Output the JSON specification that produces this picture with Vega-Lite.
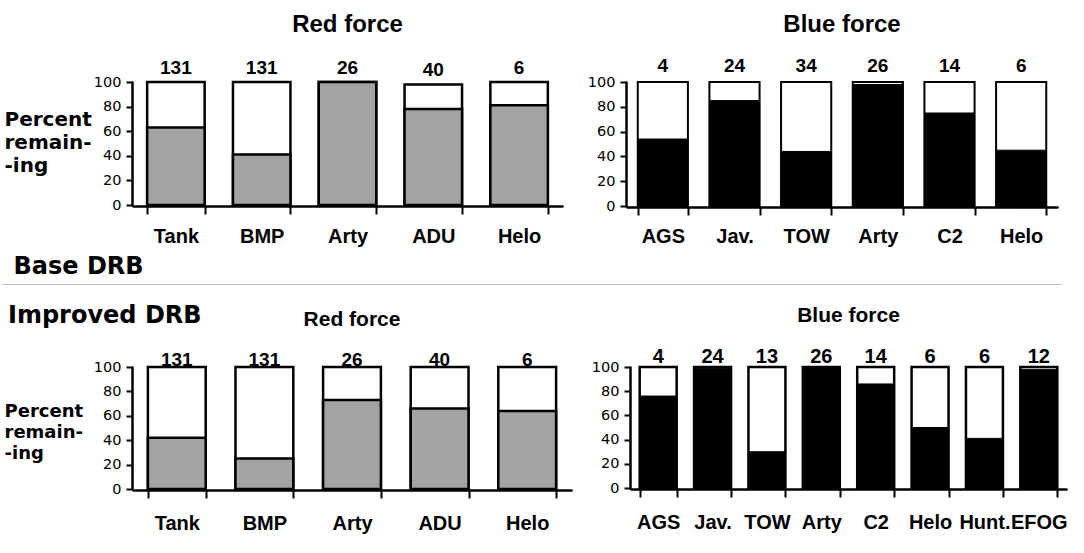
{
  "$schema": "https://vega.github.io/schema/vega-lite/v6.json",
  "background": "white",
  "padding": {"left": 0, "top": 12, "right": 0, "bottom": 0},
  "config": {
    "view": {"stroke": null},
    "font": "Liberation Sans",
    "axis": {"labelColor": "black", "grid": false, "domainColor": "#000000", "tickColor": "#000000"},
    "axisX": {"labelAngle": 0, "labelFont": "Liberation Sans", "labelFontSize": 20, "labelFontWeight": "bold", "tickSize": 8, "labelPadding": 12},
    "axisY": {"labelFont": "DejaVu Sans", "labelFontSize": 14.5, "tickSize": 6, "labelPadding": 5, "values": [0, 20, 40, 60, 80, 100]},
    "title": {"font": "Liberation Sans", "fontSize": 24, "fontWeight": "bold", "color": "black", "anchor": "middle"}
  },
  "spacing": 8,
  "columns": 1,
  "concat": [
    {
      "hconcat": [
        {
          "width": 429, "height": 123,
          "title": {"text": "Red force", "offset": 21.7},
          "data": {"values": [
            {"unit": "Tank", "count": 131, "total": 100, "remaining": 63},
            {"unit": "BMP", "count": 131, "total": 100, "remaining": 41},
            {"unit": "Arty", "count": 26, "total": 100, "remaining": 100},
            {"unit": "ADU", "count": 40, "total": 98, "remaining": 78},
            {"unit": "Helo", "count": 6, "total": 100, "remaining": 81}
          ]},
          "encoding": {"x": {"field": "unit", "type": "nominal", "sort": null, "scale": {"paddingInner": 0.33, "paddingOuter": 0.165}, "axis": {"title": null, "labelPadding": 12, "labelOverlap": false, "domainColor": "#000000", "domainWidth": 2.5, "domainCap": "round", "tickWidth": 2, "tickBand": "extent", "offset": 1}}},
          "layer": [
            {"mark": {"type": "bar", "fill": "white", "stroke": "black", "strokeWidth": 2.5},
             "encoding": {"y": {"field": "total", "type": "quantitative", "scale": {"domain": [0, 100]},
               "axis": {"offset": 1, "domainWidth": 2.5, "domainCap": "round", "tickWidth": 2, "title": ["Percent", "remain-", "-ing"], "titleAngle": 0, "titleAlign": "left", "titleBaseline": "alphabetic", "titleX": -128, "titleY": 43, "titleFont": "DejaVu Sans", "titleFontSize": 20, "titleFontWeight": "bold", "titleLineHeight": 23, "titleColor": "black"}}}},
            {"mark": {"type": "bar", "fill": "#a3a3a3", "stroke": "black", "strokeWidth": 2.5},
             "encoding": {"y": {"field": "remaining", "type": "quantitative"}}},
            {"mark": {"type": "text", "baseline": "alphabetic", "dy": -8, "fontSize": 19, "fontWeight": "bold", "color": "black"},
             "encoding": {"y": {"field": "total", "type": "quantitative"}, "text": {"field": "count"}}}
          ]
        },
        {
          "width": 430, "height": 124,
          "title": {"text": "Blue force", "offset": 20.5},
          "data": {"values": [
            {"unit": "AGS", "count": 4, "total": 100, "remaining": 54},
            {"unit": "Jav.", "count": 24, "total": 100, "remaining": 85},
            {"unit": "TOW", "count": 34, "total": 100, "remaining": 44},
            {"unit": "Arty", "count": 26, "total": 100, "remaining": 98},
            {"unit": "C2", "count": 14, "total": 100, "remaining": 75},
            {"unit": "Helo", "count": 6, "total": 100, "remaining": 45}
          ]},
          "encoding": {"x": {"field": "unit", "type": "nominal", "sort": null, "scale": {"paddingInner": 0.3, "paddingOuter": 0.15}, "axis": {"title": null, "labelPadding": 11, "labelOverlap": false, "domainColor": "#000000", "domainWidth": 2.5, "domainCap": "round", "tickWidth": 2, "tickBand": "extent", "offset": 1}}},
          "layer": [
            {"mark": {"type": "bar", "fill": "white", "stroke": "black", "strokeWidth": 2},
             "encoding": {"y": {"field": "total", "type": "quantitative", "scale": {"domain": [0, 100]}, "axis": {"title": null, "offset": 1, "domainWidth": 2.5, "domainCap": "round", "tickWidth": 2}}}},
            {"mark": {"type": "bar", "fill": "black", "stroke": "black", "strokeWidth": 1},
             "encoding": {"y": {"field": "remaining", "type": "quantitative"}}},
            {"mark": {"type": "text", "baseline": "alphabetic", "dy": -10, "fontSize": 19, "fontWeight": "bold", "color": "black"},
             "encoding": {"y": {"field": "total", "type": "quantitative"}, "text": {"field": "count"}}}
          ]
        }
      ],
      "spacing": 65,
      "bounds": "flush"
    },
    {
      "width": 927, "height": 12,
      "data": {"values": [{"divider": 0}]},
      "mark": {"type": "point", "opacity": 0},
      "encoding": {"x": {"field": "divider", "type": "quantitative", "scale": {"domain": [0, 1], "range": [-130, 927]},
        "axis": {"orient": "top", "domainColor": "#777777", "domainWidth": 1.2, "domainDash": [1, 1], "ticks": false, "labels": false,
          "title": "Base DRB", "titleAnchor": "start", "titleAlign": "left", "titleBaseline": "alphabetic", "titleX": -120, "titleY": -11, "titleFont": "DejaVu Sans", "titleFontSize": 24, "titleFontWeight": "bold", "titleColor": "black"}}}
    },
    {
      "title": {"text": "Improved DRB", "anchor": "start", "frame": "bounds", "font": "DejaVu Sans", "fontSize": 24, "offset": 2, "dx": 4, "dy": 25},
      "hconcat": [
        {
          "width": 438, "height": 122,
          "title": {"text": "Red force", "offset": 21.5, "fontSize": 21},
          "data": {"values": [
            {"unit": "Tank", "count": 131, "total": 100, "remaining": 42},
            {"unit": "BMP", "count": 131, "total": 100, "remaining": 25},
            {"unit": "Arty", "count": 26, "total": 100, "remaining": 73},
            {"unit": "ADU", "count": 40, "total": 100, "remaining": 66},
            {"unit": "Helo", "count": 6, "total": 100, "remaining": 64}
          ]},
          "encoding": {"x": {"field": "unit", "type": "nominal", "sort": null, "scale": {"paddingInner": 0.34, "paddingOuter": 0.17}, "axis": {"title": null, "labelPadding": 15.5, "labelOverlap": false, "domainColor": "#000000", "domainWidth": 2.5, "domainCap": "round", "tickWidth": 2, "tickBand": "extent", "offset": 1}}},
          "layer": [
            {"mark": {"type": "bar", "fill": "white", "stroke": "black", "strokeWidth": 2.5},
             "encoding": {"y": {"field": "total", "type": "quantitative", "scale": {"domain": [0, 100]},
               "axis": {"offset": 1, "domainWidth": 2.5, "domainCap": "round", "tickWidth": 2, "title": ["Percent", "remain-", "-ing"], "titleAngle": 0, "titleAlign": "left", "titleBaseline": "alphabetic", "titleX": -128, "titleY": 49, "titleFont": "DejaVu Sans", "titleFontSize": 18, "titleFontWeight": "bold", "titleLineHeight": 21, "titleColor": "black"}}}},
            {"mark": {"type": "bar", "fill": "#a3a3a3", "stroke": "black", "strokeWidth": 2.5},
             "encoding": {"y": {"field": "remaining", "type": "quantitative"}}},
            {"mark": {"type": "text", "baseline": "alphabetic", "dy": -1, "fontSize": 19, "fontWeight": "bold", "color": "black"},
             "encoding": {"y": {"field": "total", "type": "quantitative"}, "text": {"field": "count"}}}
          ]
        },
        {
          "width": 435, "height": 121,
          "title": {"text": "Blue force", "offset": 21, "fontSize": 21},
          "data": {"values": [
            {"unit": "AGS", "count": 4, "total": 100, "remaining": 76},
            {"unit": "Jav.", "count": 24, "total": 100, "remaining": 99},
            {"unit": "TOW", "count": 13, "total": 100, "remaining": 30},
            {"unit": "Arty", "count": 26, "total": 100, "remaining": 100},
            {"unit": "C2", "count": 14, "total": 100, "remaining": 86},
            {"unit": "Helo", "count": 6, "total": 100, "remaining": 50},
            {"unit": "Hunt.", "count": 6, "total": 100, "remaining": 41},
            {"unit": "EFOG", "count": 12, "total": 100, "remaining": 98}
          ]},
          "encoding": {"x": {"field": "unit", "type": "nominal", "sort": null, "scale": {"paddingInner": 0.32, "paddingOuter": 0.16}, "axis": {"title": null, "labelPadding": 15, "labelFontSize": 20, "labelOverlap": false, "domainColor": "#000000", "domainWidth": 2.5, "domainCap": "round", "tickWidth": 2, "tickBand": "extent", "offset": 1}}},
          "layer": [
            {"mark": {"type": "bar", "fill": "white", "stroke": "black", "strokeWidth": 2.5},
             "encoding": {"y": {"field": "total", "type": "quantitative", "scale": {"domain": [0, 100]}, "axis": {"title": null, "offset": 1, "domainWidth": 2.5, "domainCap": "round", "tickWidth": 2}}}},
            {"mark": {"type": "bar", "fill": "black", "stroke": "black", "strokeWidth": 1},
             "encoding": {"y": {"field": "remaining", "type": "quantitative"}}},
            {"mark": {"type": "text", "baseline": "alphabetic", "dy": -4, "fontSize": 20, "fontWeight": "bold", "color": "black"},
             "encoding": {"y": {"field": "total", "type": "quantitative"}, "text": {"field": "count"}}}
          ]
        }
      ],
      "spacing": 60,
      "bounds": "flush"
    }
  ]
}
